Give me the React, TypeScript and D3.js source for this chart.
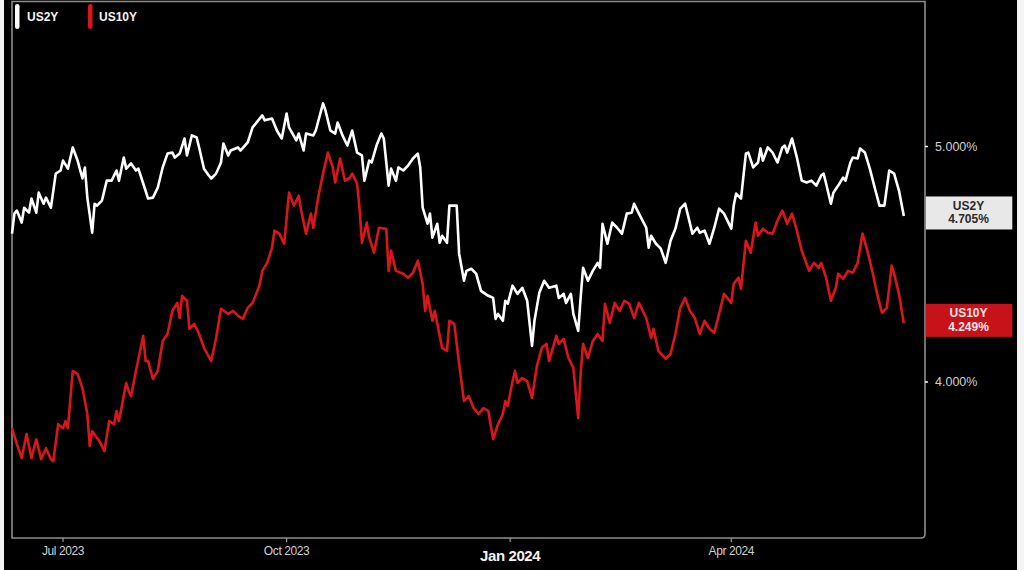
import React from "react";
import * as d3 from "d3";

const us2yDates = [
  "2023-06-10","2023-06-11","2023-06-12","2023-06-14","2023-06-15","2023-06-17","2023-06-18","2023-06-20","2023-06-21","2023-06-23",
  "2023-06-24","2023-06-26","2023-06-28","2023-06-30","2023-07-01","2023-07-03","2023-07-05","2023-07-07","2023-07-09","2023-07-10",
  "2023-07-11","2023-07-13","2023-07-14","2023-07-15","2023-07-17","2023-07-19","2023-07-21","2023-07-23","2023-07-24","2023-07-26",
  "2023-07-27","2023-07-29","2023-07-31","2023-08-01","2023-08-03","2023-08-05","2023-08-07","2023-08-09","2023-08-11","2023-08-13",
  "2023-08-15","2023-08-16","2023-08-18","2023-08-20","2023-08-21","2023-08-23","2023-08-25","2023-08-26","2023-08-28","2023-08-30",
  "2023-08-31","2023-09-02","2023-09-04","2023-09-05","2023-09-07","2023-09-08","2023-09-11","2023-09-12","2023-09-15","2023-09-17",
  "2023-09-21","2023-09-22","2023-09-25","2023-09-27","2023-09-29","2023-10-01","2023-10-02","2023-10-05","2023-10-06","2023-10-08",
  "2023-10-09","2023-10-12","2023-10-13","2023-10-16","2023-10-17","2023-10-19","2023-10-21","2023-10-22","2023-10-24","2023-10-26",
  "2023-10-28","2023-10-30","2023-11-01","2023-11-02","2023-11-04","2023-11-05","2023-11-07","2023-11-09","2023-11-10","2023-11-12",
  "2023-11-13","2023-11-15","2023-11-16","2023-11-18","2023-11-20","2023-11-22","2023-11-24","2023-11-25","2023-11-26","2023-11-28",
  "2023-11-29","2023-11-30","2023-12-02","2023-12-03","2023-12-04","2023-12-06","2023-12-07","2023-12-10","2023-12-11","2023-12-13",
  "2023-12-14","2023-12-16","2023-12-18","2023-12-20","2023-12-23","2023-12-25","2023-12-26","2023-12-27","2023-12-29","2023-12-30",
  "2023-12-31","2024-01-02","2024-01-04","2024-01-06","2024-01-08","2024-01-10","2024-01-11","2024-01-13","2024-01-15","2024-01-17",
  "2024-01-20","2024-01-21","2024-01-23","2024-01-24","2024-01-26","2024-01-27","2024-01-29","2024-01-30","2024-01-31","2024-02-02",
  "2024-02-04","2024-02-06","2024-02-07","2024-02-08","2024-02-10","2024-02-12","2024-02-14","2024-02-16","2024-02-18","2024-02-20",
  "2024-02-21","2024-02-23","2024-02-26","2024-02-27","2024-02-28","2024-03-01","2024-03-03","2024-03-05","2024-03-07","2024-03-09",
  "2024-03-11","2024-03-13","2024-03-14","2024-03-16","2024-03-18","2024-03-19","2024-03-21","2024-03-23","2024-03-25","2024-03-27",
  "2024-03-29","2024-04-01","2024-04-02","2024-04-03","2024-04-05","2024-04-07","2024-04-08","2024-04-10","2024-04-12","2024-04-13",
  "2024-04-14","2024-04-16","2024-04-18","2024-04-20","2024-04-22","2024-04-23","2024-04-24","2024-04-26","2024-04-28","2024-04-30",
  "2024-05-02","2024-05-04","2024-05-06","2024-05-08","2024-05-09","2024-05-10","2024-05-12","2024-05-13","2024-05-15","2024-05-17",
  "2024-05-18","2024-05-20","2024-05-21","2024-05-23","2024-05-24","2024-05-26","2024-05-28","2024-05-30","2024-06-01","2024-06-03",
  "2024-06-05","2024-06-07","2024-06-09","2024-06-11"
];
const us2yValues = [
  4.630,4.715,4.728,4.677,4.740,4.719,4.779,4.719,4.804,4.757,
  4.783,4.740,4.885,4.898,4.940,4.906,4.996,4.940,4.864,4.911,
  4.783,4.634,4.757,4.749,4.770,4.855,4.855,4.898,4.855,4.953,
  4.906,4.928,4.898,4.906,4.843,4.779,4.783,4.826,4.911,4.970,
  4.974,4.953,4.970,5.034,4.962,5.047,5.038,4.996,4.906,4.877,
  4.864,4.885,4.932,5.013,4.962,4.983,4.996,4.983,5.017,5.081,
  5.132,5.111,5.119,5.068,5.034,5.140,5.081,5.026,5.055,4.983,
  5.055,5.047,5.068,5.183,5.153,5.068,5.055,5.102,5.047,5.004,
  5.068,4.974,4.962,4.855,4.940,4.932,5.004,5.055,5.034,4.834,
  4.906,4.855,4.911,4.898,4.919,4.949,4.970,4.911,4.740,4.672,
  4.715,4.613,4.672,4.591,4.621,4.591,4.749,4.749,4.545,4.430,
  4.472,4.481,4.460,4.387,4.366,4.357,4.268,4.289,4.260,4.345,
  4.332,4.409,4.374,4.400,4.345,4.153,4.260,4.379,4.430,4.400,
  4.409,4.357,4.374,4.336,4.374,4.289,4.217,4.357,4.485,4.430,
  4.472,4.506,4.485,4.672,4.587,4.677,4.655,4.630,4.715,4.719,
  4.757,4.715,4.655,4.570,4.621,4.587,4.566,4.506,4.600,4.651,
  4.736,4.757,4.715,4.630,4.655,4.634,4.643,4.587,4.655,4.736,
  4.715,4.651,4.749,4.800,4.779,4.970,4.974,4.911,4.932,4.991,
  4.940,4.996,4.974,4.932,4.996,5.004,4.974,5.034,4.953,4.855,
  4.847,4.855,4.834,4.877,4.885,4.843,4.757,4.804,4.834,4.868,
  4.855,4.932,4.953,4.949,4.991,4.974,4.906,4.826,4.749,4.749,
  4.898,4.885,4.813,4.705
];

const us10yDates = [
  "2023-06-10","2023-06-12","2023-06-14","2023-06-16","2023-06-18","2023-06-20","2023-06-22","2023-06-24","2023-06-26","2023-06-27",
  "2023-06-29","2023-07-01","2023-07-02","2023-07-03","2023-07-05","2023-07-07","2023-07-09","2023-07-11","2023-07-12","2023-07-13",
  "2023-07-15","2023-07-16","2023-07-18","2023-07-20","2023-07-22","2023-07-23","2023-07-24","2023-07-27","2023-07-28","2023-07-29",
  "2023-07-31","2023-08-03","2023-08-04","2023-08-05","2023-08-07","2023-08-09","2023-08-11","2023-08-13","2023-08-15","2023-08-17",
  "2023-08-18","2023-08-19","2023-08-21","2023-08-22","2023-08-24","2023-08-26","2023-08-28","2023-08-31","2023-09-02","2023-09-04",
  "2023-09-07","2023-09-09","2023-09-11","2023-09-13","2023-09-15","2023-09-17","2023-09-19","2023-09-20","2023-09-21","2023-09-23",
  "2023-09-25","2023-09-26","2023-09-28","2023-09-30","2023-10-02","2023-10-04","2023-10-06","2023-10-07","2023-10-09","2023-10-11",
  "2023-10-12","2023-10-14","2023-10-16","2023-10-18","2023-10-20","2023-10-21","2023-10-23","2023-10-25","2023-10-27","2023-10-28",
  "2023-10-30","2023-10-31","2023-11-01","2023-11-03","2023-11-04","2023-11-06","2023-11-08","2023-11-11","2023-11-12","2023-11-13",
  "2023-11-15","2023-11-18","2023-11-20","2023-11-22","2023-11-24","2023-11-26","2023-11-27","2023-11-28","2023-11-30","2023-12-01",
  "2023-12-02","2023-12-04","2023-12-06","2023-12-07","2023-12-09","2023-12-11","2023-12-13","2023-12-15","2023-12-17","2023-12-19",
  "2023-12-21","2023-12-23","2023-12-25","2023-12-27","2023-12-29","2023-12-30","2023-12-31","2024-01-02","2024-01-03","2024-01-04",
  "2024-01-06","2024-01-08","2024-01-10","2024-01-12","2024-01-14","2024-01-16","2024-01-17","2024-01-20","2024-01-21","2024-01-23",
  "2024-01-25","2024-01-27","2024-01-29","2024-01-30","2024-01-31","2024-02-02","2024-02-04","2024-02-06","2024-02-08","2024-02-09",
  "2024-02-11","2024-02-13","2024-02-15","2024-02-17","2024-02-19","2024-02-21","2024-02-23","2024-02-26","2024-02-28","2024-02-29",
  "2024-03-02","2024-03-05","2024-03-07","2024-03-09","2024-03-11","2024-03-13","2024-03-15","2024-03-17","2024-03-19","2024-03-21",
  "2024-03-23","2024-03-25","2024-03-27","2024-03-29","2024-04-01","2024-04-02","2024-04-04","2024-04-05","2024-04-07","2024-04-09",
  "2024-04-11","2024-04-12","2024-04-14","2024-04-16","2024-04-18","2024-04-20","2024-04-22","2024-04-24","2024-04-26","2024-04-28",
  "2024-04-30","2024-05-02","2024-05-03","2024-05-05","2024-05-07","2024-05-08","2024-05-10","2024-05-12","2024-05-14","2024-05-15",
  "2024-05-17","2024-05-19","2024-05-21","2024-05-23","2024-05-25","2024-05-27","2024-05-29","2024-05-31","2024-06-02","2024-06-04",
  "2024-06-06","2024-06-07","2024-06-09","2024-06-11"
];
const us10yValues = [
  3.804,3.736,3.677,3.779,3.677,3.757,3.672,3.719,3.672,3.664,
  3.821,3.804,3.834,3.804,4.047,4.034,3.974,3.864,3.728,3.791,
  3.762,3.749,3.706,3.834,3.821,3.877,3.834,3.996,3.962,3.940,
  4.047,4.196,4.089,4.089,4.013,4.047,4.174,4.204,4.302,4.336,
  4.272,4.366,4.345,4.226,4.247,4.204,4.145,4.089,4.187,4.311,
  4.289,4.302,4.281,4.268,4.315,4.336,4.387,4.417,4.472,4.506,
  4.570,4.643,4.630,4.587,4.804,4.749,4.791,4.728,4.630,4.715,
  4.655,4.783,4.885,4.974,4.911,4.847,4.949,4.855,4.868,4.885,
  4.843,4.740,4.591,4.677,4.613,4.549,4.655,4.651,4.472,4.557,
  4.472,4.460,4.443,4.464,4.515,4.417,4.302,4.366,4.260,4.302,
  4.247,4.145,4.132,4.260,4.247,4.077,3.919,3.940,3.889,3.864,
  3.889,3.877,3.757,3.821,3.864,3.919,3.898,4.004,4.047,3.996,
  4.017,4.004,3.932,4.068,4.145,4.162,4.089,4.196,4.162,4.183,
  4.102,4.060,3.847,4.034,4.162,4.102,4.174,4.204,4.174,4.332,
  4.251,4.336,4.302,4.345,4.332,4.272,4.336,4.272,4.187,4.226,
  4.132,4.098,4.119,4.204,4.315,4.357,4.302,4.272,4.204,4.260,
  4.226,4.209,4.289,4.374,4.336,4.417,4.443,4.396,4.600,4.549,
  4.677,4.621,4.651,4.634,4.630,4.685,4.728,4.672,4.715,4.643,
  4.557,4.502,4.472,4.506,4.485,4.506,4.443,4.345,4.400,4.460,
  4.438,4.472,4.464,4.506,4.630,4.557,4.472,4.374,4.294,4.315,
  4.494,4.460,4.374,4.249
];

const seriesNames = ["US2Y", "US10Y"];
const xTickDates = ["2023-07-01", "2023-10-01", "2024-01-01", "2024-04-01"];
const xTickLabels = ["Jul 2023", "Oct 2023", "Jan 2024", "Apr 2024"];
const yTickValues = [4.0, 5.0];
const xDomain = ["2023-06-10", "2024-06-20"];
const yDomain = [4.0, 5.0];

const W = 1024;
const H = 570;
const parse = d3.timeParse("%Y-%m-%d");
const FONT = "'Liberation Sans', Arial, Helvetica, sans-serif";
const WHITE = "#ffffff";
const RED = "#d9161c";

export default function App() {
  const x = d3.scaleTime().domain(xDomain.map((d) => parse(d) as Date)).range([12, 925.7]);
  const y = d3.scaleLinear().domain(yDomain).range([382, 146.5]);

  const s2 = us2yDates.map((d, i) => ({ date: parse(d) as Date, v: us2yValues[i] }));
  const s10 = us10yDates.map((d, i) => ({ date: parse(d) as Date, v: us10yValues[i] }));
  const line = d3
    .line<{ date: Date; v: number }>()
    .x((d) => x(d.date))
    .y((d) => y(d.v));

  const fmtPct = (v: number) => d3.format(".3f")(v) + "%";
  const last2 = s2[s2.length - 1];
  const last10 = s10[s10.length - 1];

  const frameRight = 925;
  const frameBottom = 538;

  const endBoxes = [
    { name: seriesNames[0], v: last2.v, fill: "#e8e8e8", text: "#2a2a2a" },
    { name: seriesNames[1], v: last10.v, fill: "#c8121a", text: "#fde6e6" },
  ];

  return (
    <svg
      width={W}
      height={H}
      style={{ position: "absolute", left: 0, top: 0, display: "block" }}
      fontFamily={FONT}
    >
      <rect x={0} y={0} width={W} height={H} fill="#f4f4f4" />
      <rect x={4} y={0} width={1013} height={H} fill="#000" />

      {/* frame */}
      <path
        d={`M12,1.5 H${frameRight} V${frameBottom - 4} Q${frameRight},${frameBottom} ${frameRight - 4},${frameBottom} H12 Z`}
        fill="none"
        stroke="#8c8c8c"
        strokeWidth={1.6}
      />

      {/* lines */}
      <path d={line(s10) || ""} fill="none" stroke={RED} strokeWidth={2.6} strokeLinejoin="round" />
      <path d={line(s2) || ""} fill="none" stroke={WHITE} strokeWidth={2.6} strokeLinejoin="round" />

      {/* x axis ticks */}
      {xTickDates.map((d, i) => {
        const px = x(parse(d) as Date);
        const big = xTickLabels[i] === "Jan 2024";
        return (
          <g key={d}>
            <line x1={px} x2={px} y1={frameBottom} y2={frameBottom + 4} stroke="#9a9a9a" strokeWidth={1.2} />
            <text
              x={px}
              y={big ? 561 : 555}
              textAnchor="middle"
              fill={big ? "#f2f2f2" : "#d0d0d0"}
              fontSize={big ? 15 : 12}
              fontWeight={big ? 700 : 400}
              letterSpacing={big ? -0.4 : -0.4}
            >
              {xTickLabels[i]}
            </text>
          </g>
        );
      })}

      {/* y axis ticks (right) */}
      {yTickValues.map((v) => (
        <g key={v}>
          <line x1={frameRight} x2={frameRight + 3} y1={y(v)} y2={y(v)} stroke="#fff" strokeWidth={1.5} />
          <text x={935} y={y(v)} dy="0.35em" fill="#d0d0d0" fontSize={12.5}>
            {fmtPct(v)}
          </text>
        </g>
      ))}

      {/* end value boxes */}
      {endBoxes.map((b) => {
        const cy = y(b.v) - 3;
        return (
          <g key={b.name}>
            <rect x={frameRight + 0.8} y={cy - 16.5} width={86.5} height={33} fill={b.fill} />
            <text x={968.5} y={cy - 3} textAnchor="middle" fill={b.text} fontSize={12} fontWeight={700}>
              {b.name}
            </text>
            <text x={968.5} y={cy + 10.5} textAnchor="middle" fill={b.text} fontSize={12} fontWeight={700}>
              {fmtPct(b.v)}
            </text>
          </g>
        );
      })}

      {/* legend */}
      <rect x={15} y={4} width={4.5} height={25} rx={2.2} fill={WHITE} />
      <text x={27} y={21} fill="#f2f2f2" fontSize={12} fontWeight={700}>
        {seriesNames[0]}
      </text>
      <rect x={88} y={4} width={4.5} height={25} rx={2.2} fill={RED} />
      <text x={99} y={21} fill="#f2f2f2" fontSize={12} fontWeight={700}>
        {seriesNames[1]}
      </text>
    </svg>
  );
}
